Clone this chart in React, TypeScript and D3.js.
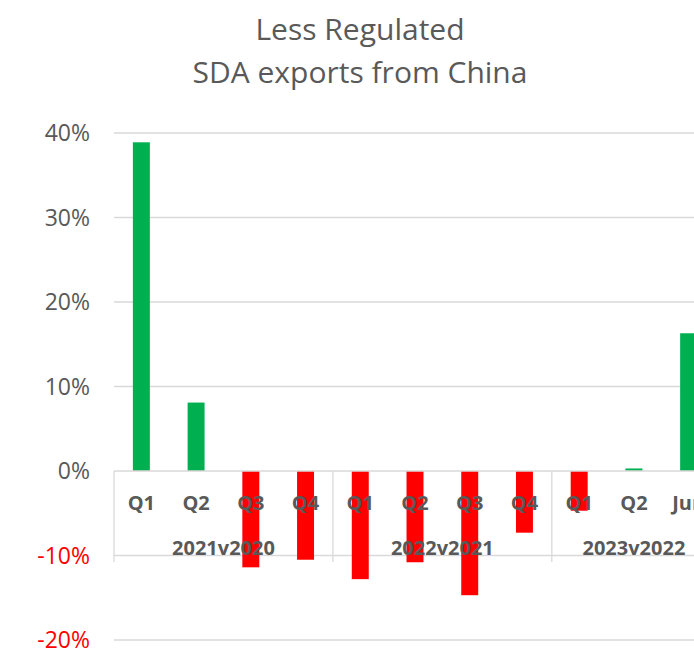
import { useEffect, useRef } from 'react';
import * as d3 from 'd3';

// quarter labels and values (% change, year on year)
const CATEGORIES = ['Q1', 'Q2', 'Q3', 'Q4', 'Q1', 'Q2', 'Q3', 'Q4', 'Q1', 'Q2', 'Jun'];
const VALUES = [38.9, 8.1, -11.4, -10.5, -12.8, -10.8, -14.7, -7.3, -4.7, 0.3, 16.3];
const GROUPS = ['2021v2020', '2022v2021', '2023v2022'];
const GROUP_SIZES = [4, 4, 3];
const Y_TICKS = [-20, -10, 0, 10, 20, 30, 40];
const TITLE = ['Less Regulated', 'SDA exports from China'];

const GREEN = '#00b050';
const RED = '#ff0000';
const GREY = '#595959';
const GRID = '#d9d9d9';
const FONT = '"Open Sans", sans-serif';

export default function App() {
  const svgRef = useRef<SVGSVGElement>(null);

  useEffect(() => {
    if (!svgRef.current) return;
    const svg = d3.select(svgRef.current);
    svg.selectAll('*').remove();

    const W = 694, H = 651;
    const plot = { left: 114, right: 716, top: 133, bottom: 640 };

    const ids = CATEGORIES.map((_, i) => String(i));
    const x = d3.scaleBand<string>()
      .domain(ids)
      .range([plot.left, plot.right])
      .paddingInner(0.69)
      .paddingOuter(0.345);
    const step = x.step();

    const y = d3.scaleLinear().domain([-20, 40]).range([plot.bottom, plot.top]);

    svg.attr('width', W).attr('height', H);

    // ── Title ───────────────────────────────────────────────
    TITLE.forEach((t, i) => {
      svg.append('text')
        .attr('x', 360).attr('y', 40 + i * 43)
        .attr('text-anchor', 'middle')
        .attr('font-family', FONT).attr('font-size', 30)
        .attr('fill', GREY)
        .text(t);
    });

    // ── Grid ────────────────────────────────────────────────
    Y_TICKS.filter(t => t !== 0).forEach(t => {
      svg.append('line')
        .attr('x1', plot.left).attr('x2', W)
        .attr('y1', y(t)).attr('y2', y(t))
        .attr('stroke', GRID).attr('stroke-width', 1.3);
    });

    // ── Y labels ────────────────────────────────────────────
    Y_TICKS.forEach(t => {
      svg.append('text')
        .attr('x', 90).attr('y', y(t)).attr('dy', '0.36em')
        .attr('text-anchor', 'end')
        .attr('font-family', FONT).attr('font-size', 23)
        .attr('fill', t < 0 ? RED : GREY)
        .text(`${t}%`);
    });

    // ── Bars ────────────────────────────────────────────────
    VALUES.forEach((v, i) => {
      svg.append('rect')
        .attr('x', x(String(i))!)
        .attr('width', x.bandwidth())
        .attr('y', y(Math.max(0, v)))
        .attr('height', Math.abs(y(v) - y(0)))
        .attr('fill', v >= 0 ? GREEN : RED);
    });

    // ── Category axis ───────────────────────────────────────
    const y0 = y(0);
    svg.append('line')
      .attr('x1', plot.left).attr('x2', W)
      .attr('y1', y0).attr('y2', y0)
      .attr('stroke', GRID).attr('stroke-width', 1.3);

    let start = 0;
    GROUP_SIZES.forEach((n, gi) => {
      const gx = plot.left + start * step;
      svg.append('line')
        .attr('x1', gx).attr('x2', gx)
        .attr('y1', y0).attr('y2', y0 + 91)
        .attr('stroke', GRID).attr('stroke-width', 1.3);
      svg.append('text')
        .attr('x', gx + (n * step) / 2).attr('y', 555)
        .attr('text-anchor', 'middle')
        .attr('font-family', FONT).attr('font-size', 20).attr('font-weight', 700)
        .attr('fill', GREY)
        .text(GROUPS[gi]);
      start += n;
    });

    CATEGORIES.forEach((c, i) => {
      svg.append('text')
        .attr('x', x(String(i))! + x.bandwidth() / 2).attr('y', 510)
        .attr('text-anchor', 'middle')
        .attr('font-family', FONT).attr('font-size', 20).attr('font-weight', 700)
        .attr('fill', GREY)
        .text(c);
    });
  }, []);

  return (
    <div style={{ position: 'absolute', left: 0, top: 0, width: 694, height: 651, overflow: 'hidden', background: '#fff' }}>
      <svg ref={svgRef} style={{ display: 'block' }} />
    </div>
  );
}
